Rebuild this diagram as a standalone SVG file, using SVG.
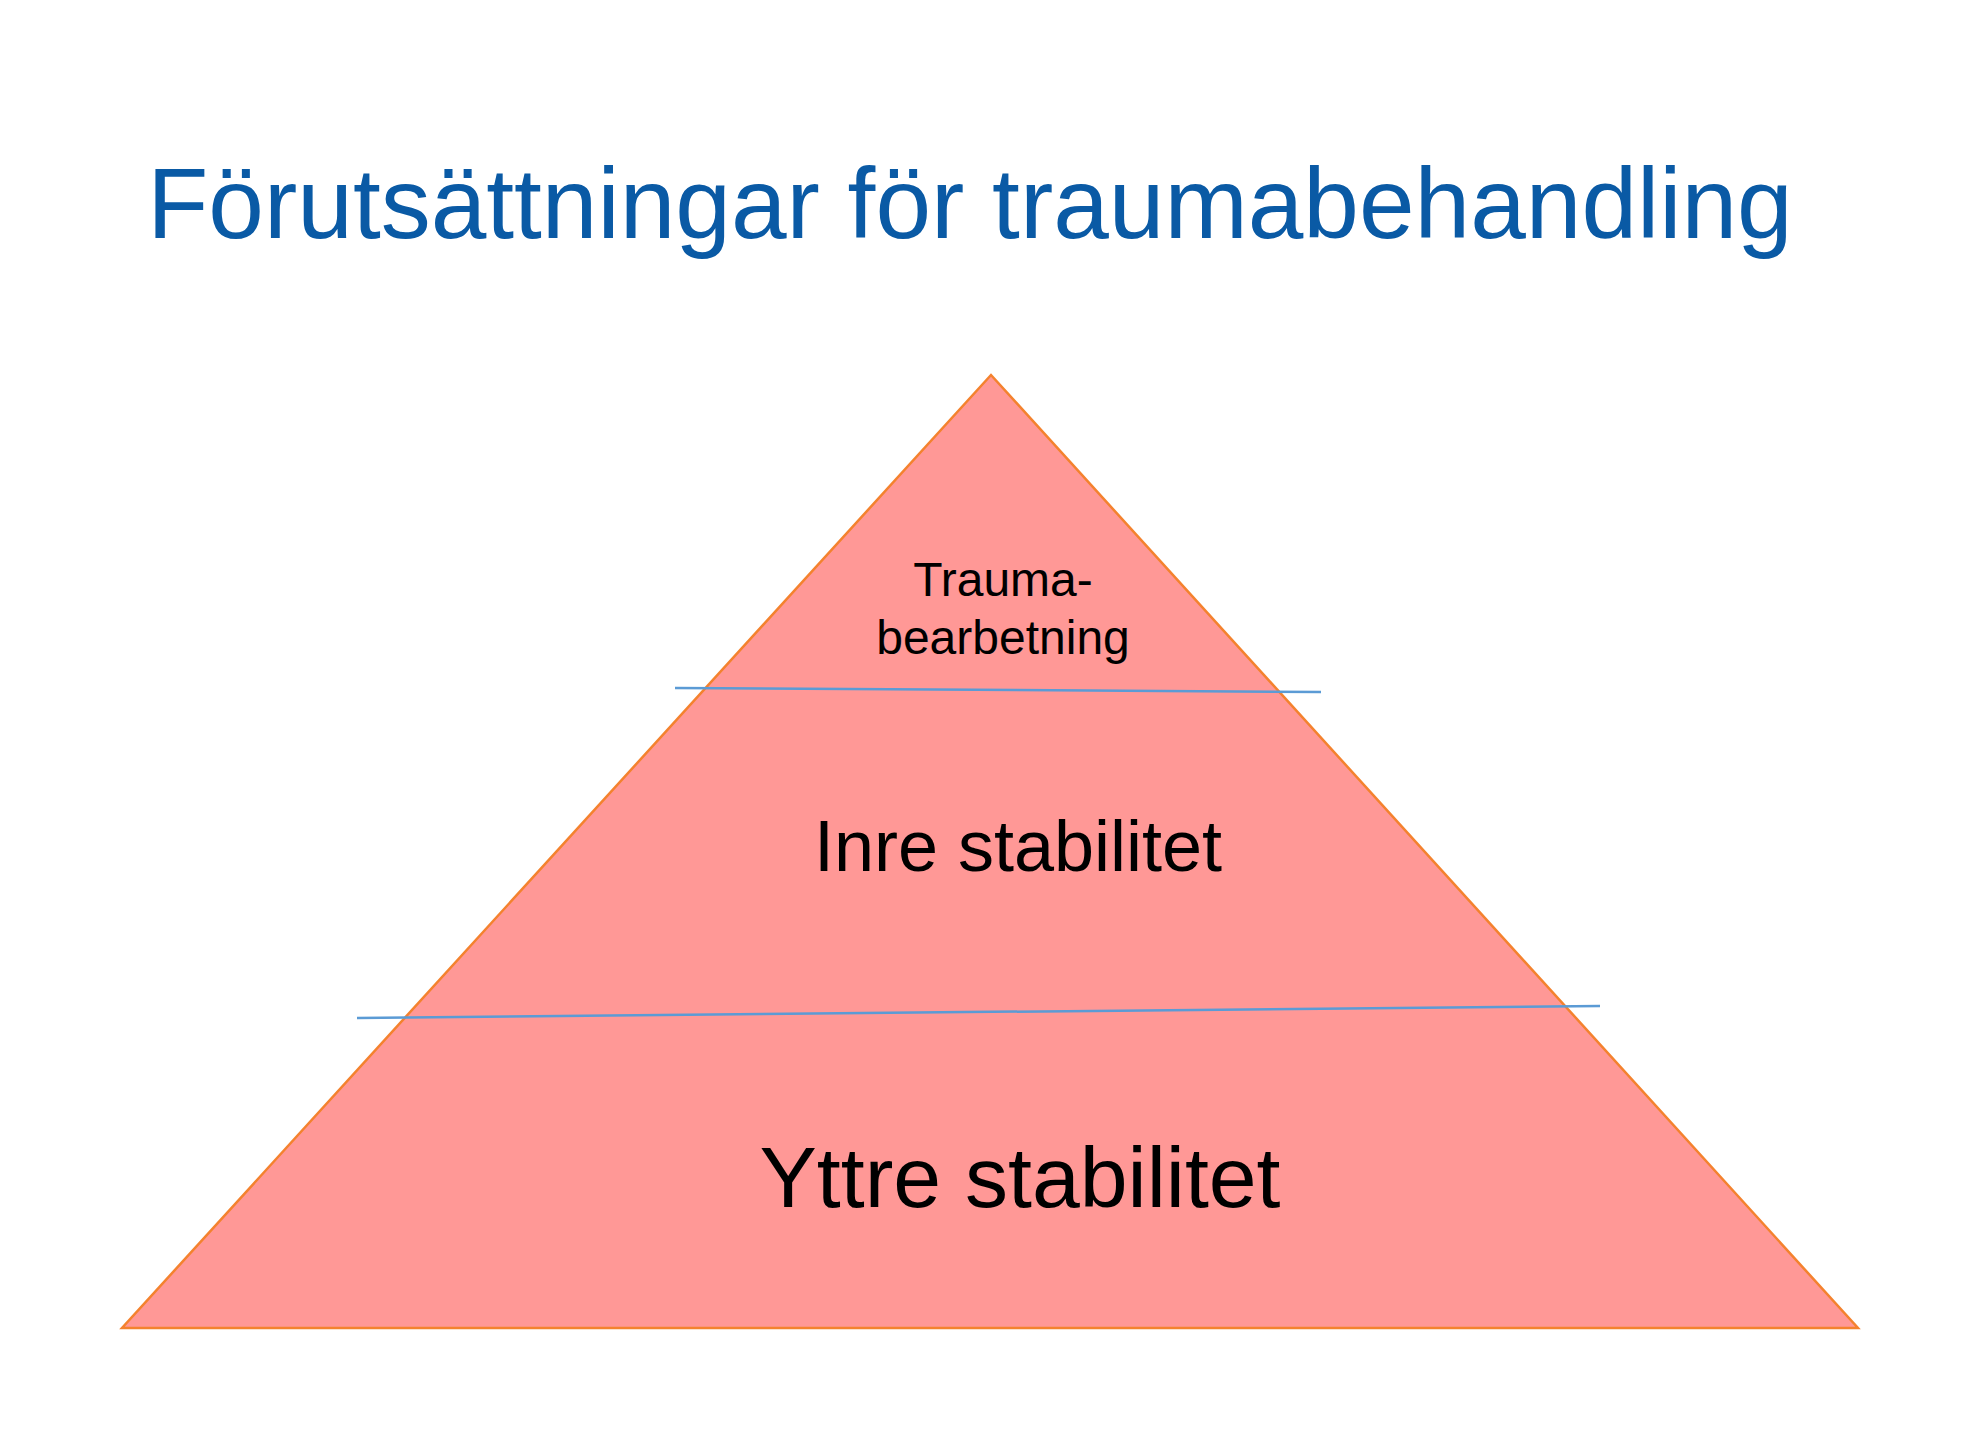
<svg xmlns="http://www.w3.org/2000/svg" width="1974" height="1450" viewBox="0 0 1974 1450">
<style>
text{font-family:"Liberation Sans",Arial,sans-serif;text-anchor:middle;fill:#000}
.sep{stroke:#5b9bd5;stroke-width:2.5;fill:none}
</style>
<rect width="1974" height="1450" fill="#fff"/>
<g id="title"><text x="970" y="238" style="font-size:100px;fill:#0a5aa5">Förutsättningar för traumabehandling</text></g>
<g id="pyramid"><polygon points="991,375 122,1328 1858,1328" fill="#ff9896" stroke="#f4822e" stroke-width="2.5"/></g>
<g id="connectors">
<line class="sep" x1="675" y1="688" x2="1321" y2="692"/>
<line class="sep" x1="357" y1="1018" x2="1600" y2="1006"/>
</g>
<g id="top"><text x="1003" y="596" style="font-size:48px">Trauma-</text><text x="1003" y="654" style="font-size:48px">bearbetning</text></g>
<g id="middle"><text x="1018" y="871" style="font-size:72px">Inre stabilitet</text></g>
<g id="bottom"><text x="1020" y="1207" style="font-size:86px">Yttre stabilitet</text></g>
</svg>
